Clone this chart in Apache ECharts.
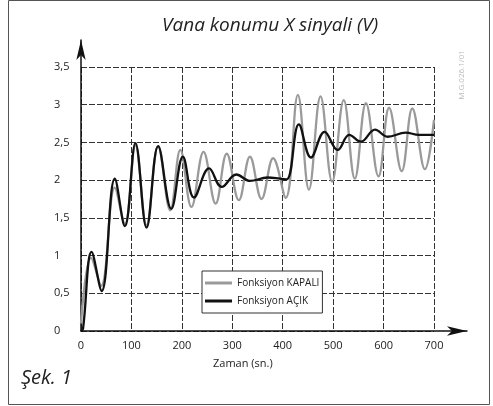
<!DOCTYPE html>
<html><head><meta charset="utf-8">
<script src="https://cdn.jsdelivr.net/npm/echarts@6/dist/echarts.min.js"></script>
<style>html,body{margin:0;padding:0;background:#fff}#c{width:493px;height:406px}</style>
</head><body><div id="c"></div>
<script>
// Fonksiyon KAPALI (gray)
const kapaliTime  = [0, 20, 40, 67, 87, 108, 130, 153, 177, 197, 219, 243, 267, 289, 313, 335, 358, 381, 406, 430, 452, 475, 498, 521, 543, 565, 590, 611, 636, 657, 682, 700];
const kapaliValue = [0.1, 0.97, 0.6, 1.9, 1.42, 2.46, 1.4, 2.45, 1.6, 2.4, 1.645, 2.375, 1.69, 2.35, 1.735, 2.31, 1.75, 2.29, 1.765, 3.13, 1.875, 3.11, 1.98, 3.06, 2.02, 3.02, 2.05, 2.96, 2.12, 2.95, 2.145, 2.8];
// Fonksiyon AÇIK (black)
const acikTime  = [0, 4, 21, 41, 67, 87, 108, 130, 153, 179, 202, 224, 254, 279, 308, 335, 370, 395, 408, 432, 456, 483, 509, 532, 555, 583, 608, 644, 670, 700];
const acikValue = [0, 0.03, 1.05, 0.53, 2.02, 1.39, 2.49, 1.37, 2.45, 1.62, 2.31, 1.77, 2.155, 1.91, 2.075, 1.99, 2.035, 2.02, 2.01, 2.74, 2.30, 2.64, 2.40, 2.60, 2.51, 2.67, 2.575, 2.63, 2.6, 2.6];

const seriesNames = ['Fonksiyon KAPALI', 'Fonksiyon AÇIK'];
const titleText = 'Vana konumu X sinyali (V)';
const xAxisName = 'Zaman (sn.)';
const figureLabel = 'Şek. 1';
const docCode = 'M.G.026.1/01';

const zip = (a, b) => a.map((v, i) => [v, b[i]]);
const FONT = "'Open Sans', sans-serif";

const chart = echarts.init(document.getElementById('c'), null, {renderer: 'canvas'});
chart.setOption({
  animation: false,
  backgroundColor: '#fff',
  title: [
    {text: titleText, left: 162, top: 16, padding: 0, textStyle: {fontFamily: FONT, fontStyle: 'italic', fontWeight: 'normal', fontSize: 19, color: '#222'}},
    {text: xAxisName, left: 213, top: 358, padding: 0, textStyle: {fontFamily: FONT, fontWeight: 'normal', fontSize: 11, color: '#222'}},
    {text: figureLabel, left: 21, top: 368, padding: 0, textStyle: {fontFamily: FONT, fontStyle: 'italic', fontWeight: 'normal', fontSize: 20, color: '#222'}}
  ],
  legend: {
    orient: 'vertical', left: 202, top: 271,
    data: seriesNames.map(n => ({name: n, icon: 'rect'})),
    itemWidth: 27, itemHeight: 3, itemGap: 4,
    padding: [5, 3, 5, 3],
    backgroundColor: '#fff', borderColor: '#333', borderWidth: 1,
    textStyle: {fontFamily: FONT, fontSize: 10, color: '#222', lineHeight: 14}
  },
  grid: [
    {left: 81, top: 67, width: 353, height: 264},
    {left: 81, top: 40, width: 386, height: 291}
  ],
  xAxis: [
    {gridIndex: 0, type: 'value', min: 0, max: 700, interval: 100,
     axisLine: {show: false}, axisTick: {show: false},
     axisLabel: {margin: 9, fontFamily: FONT, fontSize: 11, color: '#222'},
     splitLine: {show: true, lineStyle: {color: '#333', width: 1, type: [6, 2]}}},
    {gridIndex: 1, type: 'value', min: 0, max: 1,
     axisLine: {show: true, symbol: ['none', 'arrow'], symbolSize: [7, 20], lineStyle: {color: '#111', width: 1.5}},
     axisTick: {show: false}, axisLabel: {show: false}, splitLine: {show: false}}
  ],
  yAxis: [
    {gridIndex: 0, type: 'value', min: 0, max: 3.5, interval: 0.5,
     axisLine: {show: false}, axisTick: {show: false},
     axisLabel: {margin: 27, align: 'left', fontFamily: FONT, fontSize: 11, color: '#222',
                 formatter: v => String(v).replace('.', ',')},
     splitLine: {show: true, lineStyle: {color: '#333', width: 1, type: [6, 2]}}},
    {gridIndex: 1, type: 'value', min: 0, max: 1,
     axisLine: {show: true, symbol: ['none', 'arrow'], symbolSize: [7, 20], lineStyle: {color: '#111', width: 1.5}},
     axisTick: {show: false}, axisLabel: {show: false}, splitLine: {show: false}}
  ],
  series: [
    {name: seriesNames[0], type: 'line', xAxisIndex: 0, yAxisIndex: 0, data: zip(kapaliTime, kapaliValue),
     showSymbol: false, smooth: 0.4, lineStyle: {color: '#9a9a9a', width: 2.3}, itemStyle: {color: '#9a9a9a'}, z: 3},
    {name: seriesNames[1], type: 'line', xAxisIndex: 0, yAxisIndex: 0, data: zip(acikTime, acikValue),
     showSymbol: false, smooth: 0.4, lineStyle: {color: '#111', width: 2.3}, itemStyle: {color: '#111'}, z: 4}
  ],
  graphic: [
    {type: 'rect', shape: {x: 8.5, y: 0.5, width: 481, height: 404}, style: {fill: 'none', stroke: '#555', lineWidth: 1}, z: 100},
    {type: 'text', x: 462, y: 75, rotation: Math.PI / 2,
     style: {text: docCode, fontFamily: FONT, fontSize: 8, fill: '#bbb', align: 'center', verticalAlign: 'middle'}}
  ]
});
</script></body></html>
